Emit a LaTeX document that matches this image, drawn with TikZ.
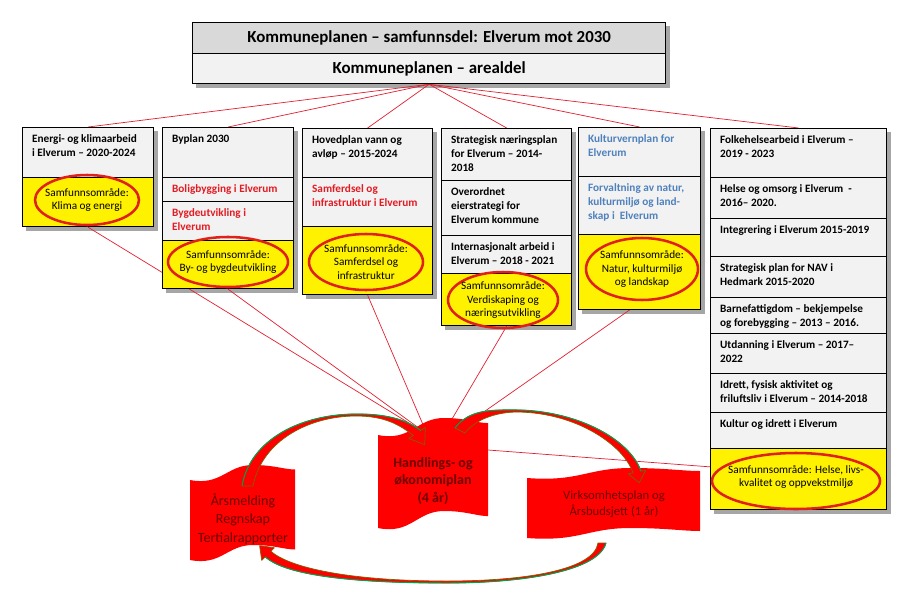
\documentclass[tikz,border=0pt]{standalone}
\usepackage{fontspec}
\setmainfont{Carlito}
\usepackage{tikz}
\usetikzlibrary{positioning,calc,shapes.geometric}

\definecolor{rowgray}{HTML}{F2F2F2}
\definecolor{titlegray}{HTML}{D9D9D9}
\definecolor{kred}{HTML}{E31B23}
\definecolor{kblue}{HTML}{4F81BD}
\definecolor{ringred}{HTML}{E0201B}
\definecolor{linkred}{HTML}{E02030}
\definecolor{darkmaroon}{HTML}{6E0000}
\definecolor{arrowrim}{HTML}{7F6000}
\definecolor{arrowgreen}{HTML}{00A050}

\pgfdeclarelayer{background}
\pgfsetlayers{background,main}

\newcommand{\pxs}{0.025cm}
% rad i en planboks: [nodevalg]{navn}{øvre venstre hjørne}{bredde}{høyde}{tekst}
\newcommand{\planrow}[6][]{%
  \node[row, minimum width=#4*\pxs, minimum height=#5*\pxs, #1,
        label={[rowtext]north west:#6}] (#2) at #3 {};}
% bølgeform: venstre, topp, høyre, bunn, amplitude
\newcommand{\flagshape}[5]{%
  \fill[flag] (#1,{#2+#5})
    .. controls ({#1+0.3*(#3-#1)},{#2+1.4*#5}) and ({#1+0.35*(#3-#1)},#2) .. ({#1+0.6*(#3-#1)},#2)
    .. controls ({#1+0.8*(#3-#1)},#2) and ({#1+0.9*(#3-#1)},{#2+0.3*#5}) .. (#3,{#2+0.3*#5})
    -- (#3,{#4+0.3*#5})
    .. controls ({#1+0.9*(#3-#1)},{#4+0.3*#5}) and ({#1+0.8*(#3-#1)},#4) .. ({#1+0.6*(#3-#1)},#4)
    .. controls ({#1+0.35*(#3-#1)},#4) and ({#1+0.3*(#3-#1)},{#4+1.4*#5}) .. (#1,{#4+#5})
    -- cycle;}

\begin{document}
\begin{tikzpicture}[x=0.025cm, y=-0.025cm, font=\fontsize{8}{9.5}\selectfont,
  row/.style={draw, line width=0.9pt, fill=rowgray, anchor=north west, inner sep=0pt},
  rowtext/.style={anchor=north west, align=left, inner xsep=7pt, inner ysep=5pt,
                  font=\fontsize{8}{10}\selectfont\bfseries},
  title/.style={row, minimum width=473*\pxs, font=\fontsize{12}{14}\selectfont\bfseries},
  ring/.style={ellipse, draw=ringred, line width=1.8pt, inner sep=0pt},
  ringtext/.style={anchor=center, align=center, inner sep=0pt},
  link/.style={draw=linkred, line width=0.5pt},
  boxshadow/.style={fill=black!35},
  flag/.style={fill=red},
  flagtext/.style={align=center, text=darkmaroon, font=\fontsize{10}{13}\selectfont},
  cyclearrow/.style={fill=red, draw=arrowrim, line width=0.5pt, line join=round},
  rim/.style={draw=arrowgreen, line width=0.7pt}]
\useasboundingbox (0,0) rectangle (901,598);

% kommuneplanen
\node[title, fill=titlegray, minimum height=31*\pxs] (t1) at (192,22) {Kommuneplanen – samfunnsdel: Elverum mot 2030};
\node[title, minimum height=30*\pxs] (t2) at (192,53) {Kommuneplanen – arealdel};

% kolonne 1
\planrow{c1a}{(22,127)}{131}{50}{Energi- og klimaarbeid\\i Elverum – 2020-2024}
\planrow[fill=yellow]{c1y}{(22,177)}{131}{49}{}
\node[ring, minimum width=104*\pxs, minimum height=50*\pxs,
      label={[ringtext]center:Samfunnsområde:\\Klima og energi}] (e1) at (87,200) {};

% kolonne 2
\planrow{c2a}{(162,127)}{131}{50}{Byplan 2030}
\planrow{c2b}{(162,177)}{131}{24}{\textcolor{kred}{Boligbygging i Elverum}}
\planrow{c2c}{(162,201)}{131}{39}{\textcolor{kred}{Bygdeutvikling i}\\\textcolor{kred}{Elverum}}
\planrow[fill=yellow]{c2y}{(162,240)}{131}{48}{}
\node[ring, minimum width=120*\pxs, minimum height=50*\pxs,
      label={[ringtext]center:Samfunnsområde:\\By- og bygdeutvikling}] (e2) at (228,262) {};

% kolonne 3
\planrow{c3a}{(302,128)}{130}{49}{Hovedplan vann og\\avløp – 2015-2024}
\planrow{c3b}{(302,177)}{130}{49}{\textcolor{kred}{Samferdsel og}\\\textcolor{kred}{infrastruktur i Elverum}}
\planrow[fill=yellow]{c3y}{(302,226)}{130}{68}{}
\node[ring, minimum width=114*\pxs, minimum height=56*\pxs,
      label={[ringtext]center:Samfunnsområde:\\Samferdsel og\\infrastruktur}] (e3) at (366,262) {};

% kolonne 4
\planrow{c4a}{(441,128)}{130}{52}{Strategisk næringsplan\\for Elverum – 2014-\\2018}
\planrow{c4b}{(441,180)}{130}{55}{Overordnet\\eierstrategi for\\Elverum kommune}
\planrow{c4c}{(441,235)}{130}{38}{Internasjonalt arbeid i\\Elverum – 2018 - 2021}
\planrow[fill=yellow]{c4y}{(441,273)}{130}{52}{}
\node[ring, minimum width=110*\pxs, minimum height=56*\pxs,
      label={[ringtext]center:Samfunnsområde:\\Verdiskaping og\\næringsutvikling}] (e4) at (503,300) {};

% kolonne 5
\planrow{c5a}{(578,127)}{122}{49}{\textcolor{kblue}{Kulturvernplan for}\\\textcolor{kblue}{Elverum}}
\planrow{c5b}{(578,176)}{122}{58}{\textcolor{kblue}{Forvaltning av natur,}\\\textcolor{kblue}{kulturmiljø og land-}\\\textcolor{kblue}{skap i \ Elverum}}
\planrow[fill=yellow]{c5y}{(578,234)}{122}{75}{}
\node[ring, minimum width=112*\pxs, minimum height=62*\pxs,
      label={[ringtext]center:Samfunnsområde:\\Natur, kulturmiljø\\og landskap}] (e5) at (642,269) {};

% kolonne 6
\planrow{c6a}{(710,128)}{176}{49}{Folkehelsearbeid i Elverum –\\2019 - 2023}
\planrow{c6b}{(710,177)}{176}{41}{Helse og omsorg i Elverum \ -\\2016– 2020.}
\planrow{c6c}{(710,218)}{176}{38}{Integrering i Elverum 2015-2019}
\planrow{c6d}{(710,256)}{176}{41}{Strategisk plan for NAV i\\Hedmark 2015-2020}
\planrow{c6e}{(710,297)}{176}{36}{Barnefattigdom – bekjempelse\\og forebygging – 2013 – 2016.}
\planrow{c6f}{(710,333)}{176}{40}{Utdanning i Elverum – 2017–\\2022}
\planrow{c6g}{(710,373)}{176}{39}{Idrett, fysisk aktivitet og\\friluftsliv i Elverum – 2014-2018}
\planrow{c6h}{(710,412)}{176}{36}{Kultur og idrett i Elverum}
\planrow[fill=yellow]{c6y}{(710,448)}{176}{61}{}
\node[ring, minimum width=168*\pxs, minimum height=56*\pxs,
      label={[ringtext, yshift=3pt]center:Samfunnsområde: Helse, livs-\\kvalitet og oppvekstmiljø}] (e6) at (796,481) {};

% årshjulet
\flagshape{378}{418}{488}{511}{17}
\flagshape{190}{465}{295}{545}{15}
\flagshape{527}{468}{700}{528}{10}
\node[flagtext, font=\fontsize{10}{12.5}\selectfont\bfseries] (hop) at (433,481) {Handlings- og\\økonomiplan\\(4 år)};
\node[flagtext] (arsm) at (243,519) {Årsmelding\\Regnskap\\Tertialrapporter};
\node[flagtext, font=\fontsize{9}{11.5}\selectfont] (virk) at (614,504) {Virksomhetsplan og\\Årsbudsjett (1 år)};
\coordinate (hub) at (427,434);
\coordinate (hubb) at (452,419);
\coordinate (hubc) at (458,430);
\coordinate (hopr) at (488,450);

\path[cyclearrow] (242,486) .. controls (250,440) and (300,414) .. (357,414)
  .. controls (390,414) and (408,421) .. (420.7,430.5) -- (425.3,427.5) -- (424.7,444.6)
  -- (408.7,438.5) -- (413.3,435.5) .. controls (400,425) and (385,416) .. (356,416)
  .. controls (310,416) and (262,440) .. (253,486) -- cycle;
\draw[rim] (242,486) .. controls (250,440) and (300,414) .. (357,414) .. controls (390,414) and (408,421) .. (420.7,430.5);
\path[cyclearrow] (455,428) .. controls (470,408) and (495,410) .. (520,410)
  .. controls (580,412) and (630,440) .. (641,471.2) -- (645.8,470.2) -- (639.2,482.8)
  -- (628.2,473.8) -- (633,472.8) .. controls (624,446) and (578,413) .. (518,412)
  .. controls (495,412) and (475,420) .. (465,433) -- cycle;
\draw[rim] (455,428) .. controls (470,408) and (495,410) .. (520,410) .. controls (580,412) and (630,440) .. (641,471.2);
\path[cyclearrow] (606,543) .. controls (598,572) and (520,583) .. (447,583)
  .. controls (350,583) and (285,575) .. (265.2,556.8) -- (261.7,560.3) -- (259.6,545.6)
  -- (274.3,547.7) -- (270.8,551.2) .. controls (290,568) and (350,581) .. (447,581)
  .. controls (525,581) and (594,570) .. (598,543) -- cycle;
\draw[rim] (606,543) .. controls (598,572) and (520,583) .. (447,583) .. controls (350,583) and (285,575) .. (265.2,556.8);

\begin{pgfonlayer}{background}
\foreach \a/\b in {t1/t2,c1a/c1y,c2a/c2y,c3a/c3y,c4a/c4y,c5a/c5y,c6a/c6y}
  \fill[boxshadow] ($(\a.north west)+(4,4)$) rectangle ($(\b.south east)+(4,4)$);
\foreach \a in {c1a,c2a,c3a,c4a,c5a,c6a} \draw[link] (t2.south) -- (\a.north);
\foreach \a/\b in {c1y/hub,c2y/hub,c3y/hub,c4y/hubb} \draw[link] (\a.south) -- (\b);
\draw[link] (e5.south) -- (hubc);
\draw[link] (hopr) -- (e6.170);
\end{pgfonlayer}
\end{tikzpicture}
\end{document}
